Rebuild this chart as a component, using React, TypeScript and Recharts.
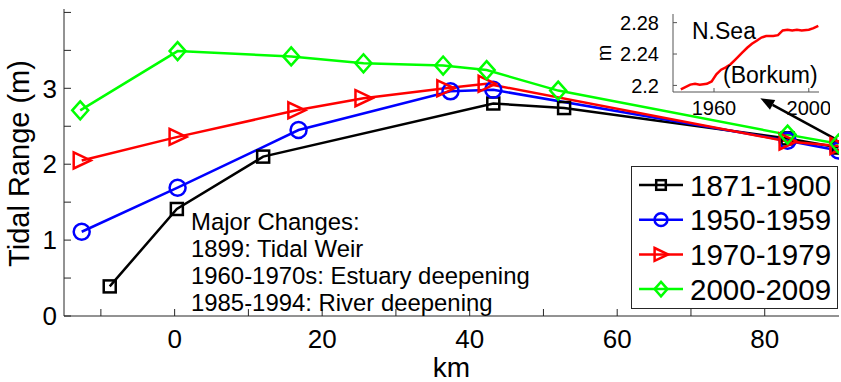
import React from "react";
import {
  LineChart,
  Line,
  XAxis,
  YAxis,
  CartesianGrid,
  ReferenceLine,
  Label,
} from "recharts";

const FONT = '"Liberation Sans", Arial, Helvetica, sans-serif';
const AXIS = "#262626";

// tidal range along the estuary (km, m)
const km1871 = [-8.8, 0.3, 12.0, 43.2, 52.8, 83.1, 90];
const tr1871 = [0.39, 1.41, 2.1, 2.8, 2.74, 2.34, 2.22];

const km1950 = [-12.6, 0.4, 16.8, 37.4, 43.2, 83.1, 90];
const tr1950 = [1.11, 1.69, 2.45, 2.96, 2.98, 2.31, 2.18];

const km1970 = [-12.6, 0.4, 16.5, 25.6, 36.7, 42.3, 83.1, 90];
const tr1970 = [2.05, 2.36, 2.71, 2.87, 3.0, 3.06, 2.3, 2.24];

const km2000 = [-12.8, 0.4, 15.8, 25.6, 36.4, 42.3, 52.0, 83.1, 90];
const tr2000 = [2.71, 3.49, 3.42, 3.33, 3.3, 3.24, 2.97, 2.39, 2.27];

const xTicks = [-10, 0, 10, 20, 30, 40, 50, 60, 70, 80];
const xLabels = [0, 20, 40, 60, 80];
const yTicks = [0, 0.5, 1, 1.5, 2, 2.5, 3, 3.5, 4];
const yLabels = [0, 1, 2, 3];

const notes = [
  "Major Changes:",
  "1899: Tidal Weir",
  "1960-1970s: Estuary deepening",
  "1985-1994: River deepening",
];

// inset: N.Sea tidal range at Borkum
const borkumYears = [
  1946, 1950, 1952, 1954, 1957, 1959, 1961, 1963, 1965, 1967, 1969, 1972,
  1974, 1976, 1978, 1980, 1982, 1985, 1987, 1989, 1991, 1993, 1995, 1997,
  2000, 2002, 2004,
];
const borkumRange = [
  2.195, 2.201, 2.202, 2.201, 2.202, 2.205, 2.214, 2.22, 2.223, 2.227, 2.233,
  2.242, 2.248, 2.253, 2.257, 2.261, 2.263, 2.263, 2.264, 2.27, 2.271, 2.27,
  2.271, 2.27, 2.271, 2.273, 2.276,
];
const insetXTicks = [1960, 2000];
const insetYTicks = [2.2, 2.24, 2.28];

const zip = (xs: number[], ys: number[]) =>
  xs.map((km, i) => ({ km, v: ys[i] }));

const d1871 = zip(km1871, tr1871);
const d1950 = zip(km1950, tr1950);
const d1970 = zip(km1970, tr1970);
const d2000 = zip(km2000, tr2000);
const dBorkum = borkumYears.map((year, i) => ({ year, v: borkumRange[i] }));

type Shape = "square" | "circle" | "triangle" | "diamond";

const series = [
  { name: "1871-1900", data: d1871, color: "#000000", shape: "square" as Shape },
  { name: "1950-1959", data: d1950, color: "#0000ff", shape: "circle" as Shape },
  { name: "1970-1979", data: d1970, color: "#ff0000", shape: "triangle" as Shape },
  { name: "2000-2009", data: d2000, color: "#00ff00", shape: "diamond" as Shape },
];

function marker(shape: Shape, cx: number, cy: number, color: string, s = 1, key?: string) {
  const common = { fill: "none", stroke: color, strokeWidth: 2.5, key };
  if (shape === "square")
    return <rect {...common} x={cx - 6 * s} y={cy - 6 * s} width={12 * s} height={12 * s} />;
  if (shape === "circle") return <circle {...common} cx={cx} cy={cy} r={8 * s} />;
  if (shape === "triangle")
    return (
      <polygon
        {...common}
        points={`${cx - 8 * s},${cy - 8 * s} ${cx + 9 * s},${cy} ${cx - 8 * s},${cy + 8 * s}`}
      />
    );
  return (
    <polygon
      {...common}
      points={`${cx},${cy - 9 * s} ${cx + 8 * s},${cy} ${cx},${cy + 9 * s} ${cx - 8 * s},${cy}`}
    />
  );
}

const makeDot = (shape: Shape, color: string) => (props: any) =>
  marker(shape, props.cx, props.cy, color, 1, `${shape}-${props.index}`);

const Arrow = (props: any) => {
  const { x1, y1, x2, y2 } = props;
  const a = Math.atan2(y2 - y1, x2 - x1);
  const len = 14;
  const w = 5.5;
  const bx = x2 - len * Math.cos(a);
  const by = y2 - len * Math.sin(a);
  const px = -Math.sin(a) * w;
  const py = Math.cos(a) * w;
  return (
    <g>
      <line x1={x1} y1={y1} x2={bx} y2={by} stroke="#000" strokeWidth={2.5} />
      <polygon points={`${x2},${y2} ${bx + px},${by + py} ${bx - px},${by - py}`} fill="#000" />
    </g>
  );
};

function Legend() {
  return (
    <div
      style={{
        position: "absolute",
        left: 631,
        top: 166,
        width: 207,
        height: 143,
        boxSizing: "border-box",
        border: `1px solid ${AXIS}`,
        background: "#fff",
      }}
    >
      <svg width={205} height={141}>
        {series.map((s, i) => {
          const y = 18 + i * 34.7;
          return (
            <g key={s.name}>
              <line x1={7} x2={51} y1={y} y2={y} stroke={s.color} strokeWidth={2.5} />
              {marker(s.shape, 29, y, s.color, 0.8)}
              <text
                x={58}
                y={y + 10.5}
                fontSize={29.5}
                fontFamily={FONT}
                fill="#000"
              >
                {s.name}
              </text>
            </g>
          );
        })}
      </svg>
    </div>
  );
}

function Inset() {
  return (
    <div style={{ position: "absolute", left: 590, top: 0 }}>
      <LineChart width={240} height={120} margin={{ top: 14, right: 11, left: 0, bottom: 0 }}>
        <CartesianGrid horizontal={false} vertical={false} fill="#fff" />
        <XAxis
          dataKey="year"
          type="number"
          domain={[1942.7, 2004.3]}
          allowDataOverflow
          ticks={insetXTicks}
          height={28}
          stroke="#555"
          tickSize={-4}
          tickMargin={13}
          tick={{ fontSize: 20, fill: "#000", fontFamily: FONT }}
        />
        <XAxis
          xAxisId="top"
          orientation="top"
          type="number"
          domain={[1942.7, 2004.3]}
          allowDataOverflow
          ticks={insetXTicks}
          height={0}
          stroke="#555"
          tickSize={-4}
          tickFormatter={() => ""}
        />
        <YAxis
          type="number"
          domain={[2.1916, 2.291]}
          allowDataOverflow
          ticks={insetYTicks}
          width={83}
          stroke="#555"
          tickSize={-4}
          tickMargin={18}
          tickFormatter={(v: number) => String(v)}
          tick={{ fontSize: 20, fill: "#000", fontFamily: FONT }}
        >
          <Label
            content={(p: any) => (
              <text
                transform={`translate(${(p.viewBox?.x ?? 0) + 21}, ${53}) rotate(-90)`}
                textAnchor="middle"
                fontSize={20}
                fontFamily={FONT}
                fill="#000"
              >
                m
              </text>
            )}
          />
        </YAxis>
        <YAxis
          yAxisId="right"
          orientation="right"
          type="number"
          domain={[2.1916, 2.291]}
          allowDataOverflow
          ticks={insetYTicks}
          width={0}
          stroke="#555"
          tickSize={-4}
          tickFormatter={() => ""}
        />
        <Line
          data={dBorkum}
          dataKey="v"
          stroke="#ff0000"
          strokeWidth={2.5}
          dot={false}
          isAnimationActive={false}
        />
      </LineChart>
      <svg
        width={240}
        height={120}
        style={{ position: "absolute", left: 0, top: 0, pointerEvents: "none" }}
      >
        <text x={102} y={38.5} fontSize={23} fontFamily={FONT} fill="#000">
          N.Sea
        </text>
        <text x={133} y={83} fontSize={23} fontFamily={FONT} fill="#000">
          (Borkum)
        </text>
      </svg>
    </div>
  );
}

export default function App() {
  return (
    <div
      style={{
        position: "absolute",
        left: 0,
        top: 0,
        width: 841,
        height: 382,
        background: "#fff",
        fontFamily: FONT,
      }}
    >
      <LineChart width={841} height={382} margin={{ top: 9, right: 2, left: 0, bottom: 0 }}>
        <XAxis
          dataKey="km"
          type="number"
          domain={[-15, 90.07]}
          allowDataOverflow
          ticks={xTicks}
          height={66}
          stroke={AXIS}
          tickSize={-7}
          tickMargin={21}
          tickFormatter={(v: number) => (xLabels.includes(v) ? String(v) : "")}
          tick={{ fontSize: 26, fill: "#000", fontFamily: FONT }}
        >
          <Label
            value="km"
            position="insideBottom"
            offset={5}
            style={{ fontSize: 28, fill: "#000", fontFamily: FONT }}
          />
        </XAxis>
        <XAxis
          xAxisId="top"
          orientation="top"
          type="number"
          domain={[-15, 90.07]}
          allowDataOverflow
          ticks={xTicks}
          height={0}
          stroke={AXIS}
          tickSize={-7}
          tickFormatter={() => ""}
        />
        <YAxis
          type="number"
          domain={[0, 4.045]}
          allowDataOverflow
          ticks={yTicks}
          width={64}
          stroke={AXIS}
          tickSize={-7}
          tickMargin={14}
          tickFormatter={(v: number) => (yLabels.includes(v) ? String(v) : "")}
          tick={{ fontSize: 26, fill: "#000", fontFamily: FONT }}
        >
          <Label
            content={(p: any) => {
              const vb = p.viewBox || { x: 0, y: 9, height: 307 };
              return (
                <text
                  transform={`translate(${vb.x + 29}, ${vb.y + vb.height / 2 + 1}) rotate(-90)`}
                  textAnchor="middle"
                  fontSize={29}
                  fontFamily={FONT}
                  fill="#000"
                >
                  Tidal Range (m)
                </text>
              );
            }}
          />
        </YAxis>
        <YAxis
          yAxisId="right"
          orientation="right"
          type="number"
          domain={[0, 4.045]}
          allowDataOverflow
          ticks={yTicks}
          width={0}
          stroke={AXIS}
          tickSize={-7}
          tickFormatter={() => ""}
        />
        {series.map((s) => (
          <Line
            key={s.name}
            data={s.data}
            dataKey="v"
            name={s.name}
            stroke={s.color}
            strokeWidth={2.5}
            dot={makeDot(s.shape, s.color)}
            isAnimationActive={false}
          />
        ))}
        <ReferenceLine
          segment={[
            { x: 89.8, y: 2.32 },
            { x: 79.4, y: 2.87 },
          ]}
          shape={Arrow}
        />
      </LineChart>
      <svg
        width={841}
        height={382}
        style={{ position: "absolute", left: 0, top: 0, pointerEvents: "none" }}
      >
        {notes.map((t, i) => (
          <text
            key={t}
            x={191}
            y={230 + i * 26.9}
            fontSize={23.9}
            fontFamily={FONT}
            fill="#000"
          >
            {t}
          </text>
        ))}
      </svg>
      <Inset />
      <Legend />
    </div>
  );
}
